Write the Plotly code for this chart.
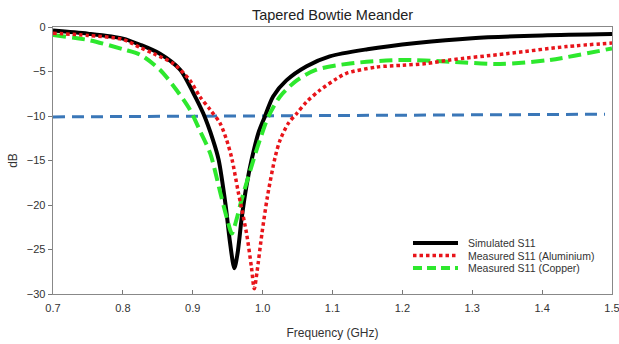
import plotly.graph_objects as go

# ---- data ----
sim_f = [0.70, 0.75, 0.80, 0.825, 0.853, 0.882, 0.901, 0.915, 0.929, 0.937, 0.947,
         0.953, 0.9595, 0.964, 0.970, 0.977, 0.984, 0.994, 1.003, 1.015, 1.034,
         1.063, 1.096, 1.15, 1.22, 1.30, 1.40, 1.50]
sim_db = [-0.4, -0.75, -1.3, -2.0, -3.0, -4.8, -7.45, -9.7, -12.7, -14.9, -20.0,
          -24.0, -27.1, -25.5, -21.5, -17.8, -15.0, -11.9, -10.1, -7.8, -6.0,
          -4.4, -3.3, -2.5, -1.8, -1.25, -0.95, -0.8]

alu_f = [0.70, 0.75, 0.80, 0.8245, 0.844, 0.872, 0.896, 0.91, 0.925, 0.939, 0.9485,
         0.956, 0.965, 0.977, 0.984, 0.988, 0.992, 0.999, 1.007, 1.018, 1.025, 1.037,
         1.049, 1.063, 1.082, 1.106, 1.12, 1.163, 1.20, 1.235, 1.268, 1.349, 1.435, 1.50]
alu_db = [-0.7, -0.95, -1.4, -2.3, -3.0, -4.1, -6.0, -7.8, -9.3, -10.8, -12.7,
          -14.8, -18.5, -23.2, -27.0, -29.4, -27.5, -23.2, -19.0, -14.6, -12.7, -10.8,
          -9.7, -8.4, -7.1, -5.8, -5.2, -4.5, -4.3, -4.1, -3.7, -3.0, -2.2, -1.8]

cu_f = [0.70, 0.753, 0.80, 0.8245, 0.853, 0.877, 0.896, 0.91, 0.925, 0.94, 0.95,
        0.956, 0.962, 0.97, 0.987, 0.996, 1.008, 1.025, 1.049, 1.077, 1.125, 1.197,
        1.268, 1.34, 1.411, 1.50]
cu_db = [-0.9, -1.5, -2.5, -3.1, -4.8, -7.1, -9.3, -11.6, -14.2, -18.8, -21.8,
         -23.2, -21.8, -19.4, -14.9, -12.7, -10.1, -7.8, -6.0, -4.8, -4.1, -3.7,
         -3.9, -4.15, -3.7, -2.4]

ref_f = [0.70, 1.49]
ref_db = [-10.1, -9.8]

legend_labels = ["Simulated S11", "Measured S11 (Aluminium)", "Measured S11 (Copper)"]
x_ticks = [0.7, 0.8, 0.9, 1.0, 1.1, 1.2, 1.3, 1.4, 1.5]
x_tick_text = ["0.7", "0.8", "0.9", "1.0", "1.1", "1.2", "1.3", "1.4", "1.5"]
y_ticks = [0, -5, -10, -15, -20, -25, -30]

# ---- styles ----
BLACK = "#000000"
RED = "#e8141a"
GREEN = "#2de82d"
BLUE = "#3a77b8"
FONT = "Liberation Sans, Arial, sans-serif"
TXT = "#333333"

fig = go.Figure()
fig.add_trace(go.Scatter(x=ref_f, y=ref_db, mode="lines", showlegend=False,
                         line=dict(color=BLUE, width=3, dash="12px,7px")))
fig.add_trace(go.Scatter(x=sim_f, y=sim_db, mode="lines", showlegend=False,
                         line=dict(color=BLACK, width=4, shape="spline", smoothing=0.8)))
fig.add_trace(go.Scatter(x=cu_f, y=cu_db, mode="lines", showlegend=False,
                         line=dict(color=GREEN, width=4, dash="13px,6px",
                                   shape="spline", smoothing=0.8)))
fig.add_trace(go.Scatter(x=alu_f, y=alu_db, mode="lines", showlegend=False,
                         line=dict(color=RED, width=3.5, dash="3.5px,3px",
                                   shape="spline", smoothing=0.8)))

# custom legend (inside plot area)
leg_styles = [dict(color=BLACK, width=4), dict(color=RED, width=3.5, dash="3.5px,3px"),
              dict(color=GREEN, width=4, dash="9px,5px")]
leg_y = [0.191, 0.144, 0.097]
shapes = []
annotations = []
for lab, st, yy in zip(legend_labels, leg_styles, leg_y):
    shapes.append(dict(type="line", xref="paper", yref="paper", x0=0.644, x1=0.7245,
                       y0=yy, y1=yy, line=st))
    annotations.append(dict(xref="paper", yref="paper", x=0.739, y=yy, text=lab,
                            showarrow=False, xanchor="left", yanchor="middle",
                            font=dict(family=FONT, size=10.5, color=TXT)))

fig.update_layout(
    width=619, height=344,
    margin=dict(l=53, r=7, t=27, b=50),
    paper_bgcolor="white", plot_bgcolor="white",
    font=dict(family=FONT, size=11, color=TXT),
    title=dict(text="Tapered Bowtie Meander", x=0.5, xref="paper", y=1 - 15 / 344,
               yref="container", yanchor="middle",
               font=dict(family=FONT, size=14.5, color="#222222")),
    shapes=shapes, annotations=annotations,
    xaxis=dict(range=[0.7, 1.5], tickvals=x_ticks, ticktext=x_tick_text,
               ticks="inside", ticklen=4, tickcolor="#777777", showgrid=False,
               zeroline=False, showline=True, linecolor="#888888", linewidth=1.3,
               mirror=True, ticklabelstandoff=3, automargin=False,
               ticklabeloverflow="allow",
               title=dict(text="Frequency (GHz)", standoff=16,
                          font=dict(family=FONT, size=12, color=TXT)),
               tickfont=dict(family=FONT, size=11, color=TXT)),
    yaxis=dict(range=[-30, 0], tickvals=y_ticks, ticks="outside", ticklen=4,
               tickcolor="#777777", showgrid=False, zeroline=False, showline=True,
               linecolor="#888888", linewidth=1.3, mirror=True, automargin=False,
               ticklabeloverflow="allow",
               title=dict(text="dB", standoff=6,
                          font=dict(family=FONT, size=12, color=TXT)),
               tickfont=dict(family=FONT, size=11, color=TXT)),
)

# remove the default page margin so the 619x344 figure fills the window exactly
fig.write_html("out.html",
               config={"displayModeBar": False, "staticPlot": True},
               post_script="document.body.style.margin='0';"
                           "document.body.style.overflow='hidden';")
